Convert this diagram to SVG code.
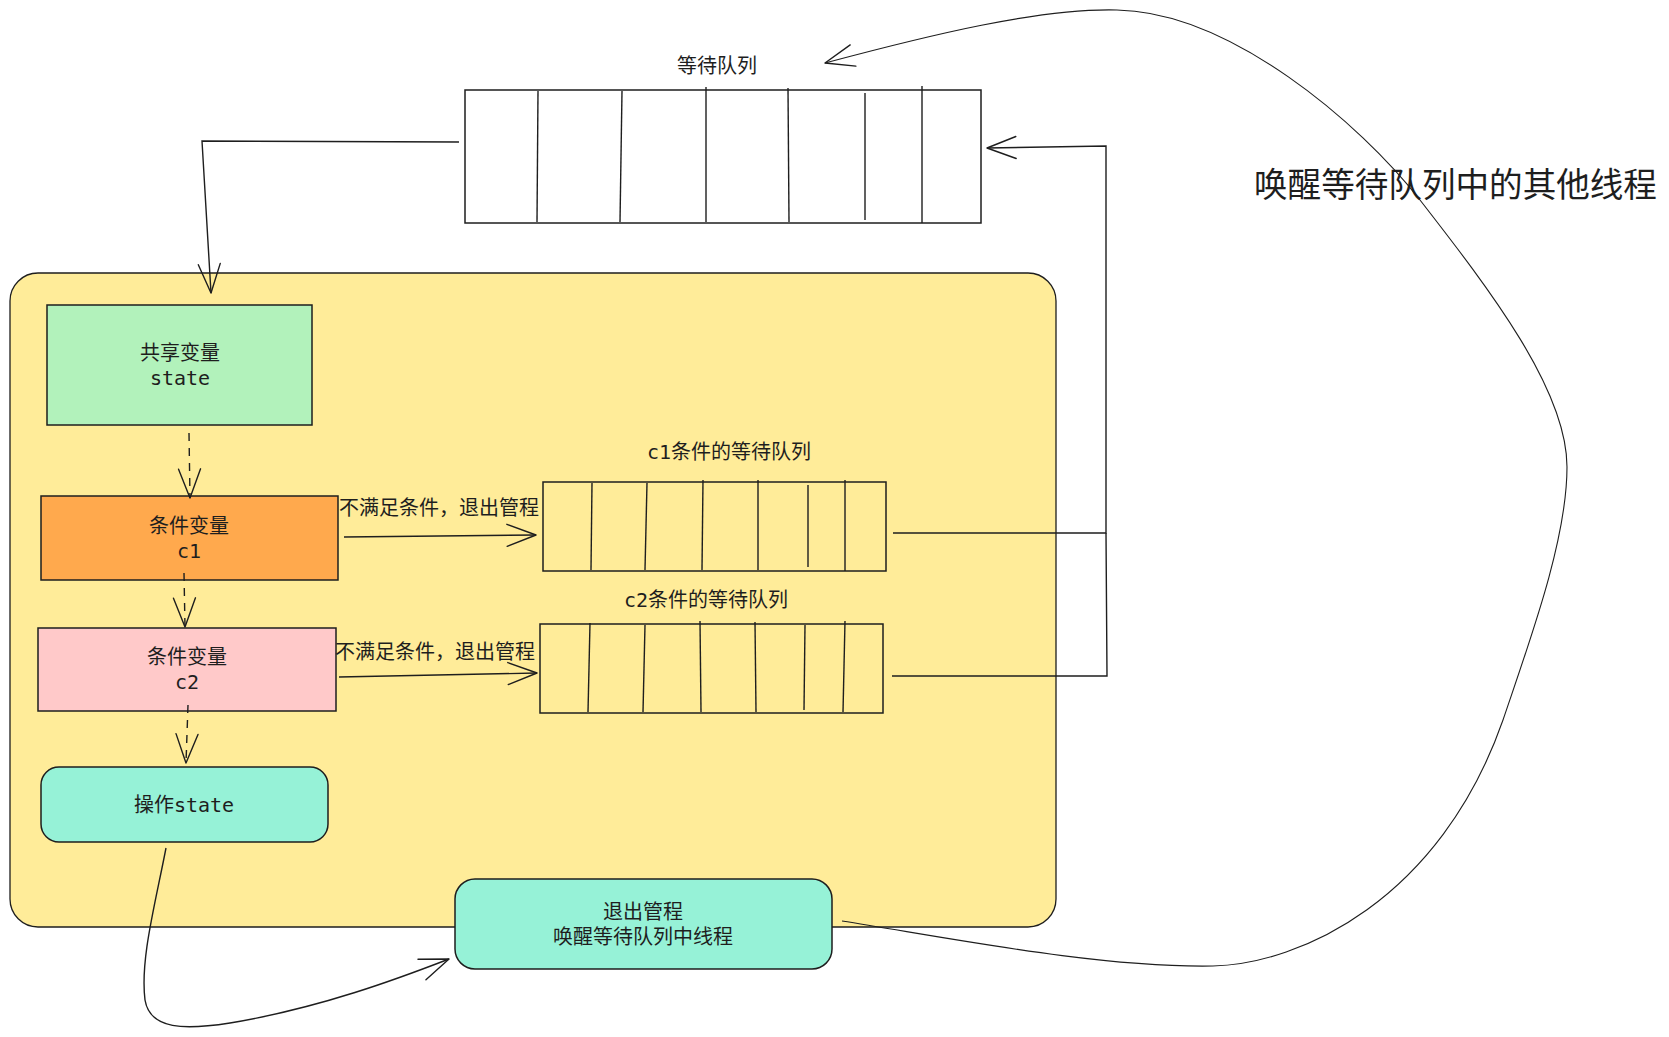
<svg xmlns="http://www.w3.org/2000/svg" width="1669" height="1037" viewBox="0 0 1669 1037">
<style>
  .bg { fill: #ffffff; }
  .frame { fill: #ffec99; stroke: #1e1e1e; stroke-width: 1.3; }
  .box { stroke: #1e1e1e; stroke-width: 1.5; }
  .queue { fill: none; stroke: #1e1e1e; stroke-width: 1.5; }
  .div { stroke: #1e1e1e; stroke-width: 1.4; }
  .edge { fill: none; stroke: #1e1e1e; stroke-width: 1.4; }
  .thin { stroke-width: 1.1; }
  .dash { stroke-dasharray: 8 7; }
  .head { fill: none; stroke: #1e1e1e; stroke-width: 1.4; stroke-dasharray: none; stroke-linecap: round; stroke-linejoin: round; }
  text { fill: #1e1e1e; }
  .cjk { font-family: "Noto Sans CJK SC", sans-serif; font-size: 20px; }
  .mix { font-family: "DejaVu Sans Mono", "Noto Sans CJK SC", monospace; font-size: 20px; }
  .big { font-family: "Noto Sans CJK SC", sans-serif; font-size: 33.6px; }
</style>
<defs>
  <marker id="open" markerUnits="userSpaceOnUse" viewBox="-32 -14 36 28" refX="0" refY="0" markerWidth="36" markerHeight="28" orient="auto" overflow="visible">
    <path class="head" d="M-29,-11 L0,0 L-29,11"/>
  </marker>
</defs>
<rect class="bg" x="0" y="0" width="1669" height="1037"/>

<g id="monitor">
  <rect class="frame" x="10" y="273" width="1046" height="654" rx="28" ry="28"/>
</g>

<g id="wait-queue">
  <text class="cjk" x="717" y="64" text-anchor="middle" dominant-baseline="central">等待队列</text>
  <rect class="queue" x="465" y="90" width="516" height="133"/>
  <line class="div" x1="538" y1="91" x2="537" y2="222"/>
  <line class="div" x1="622" y1="91" x2="620" y2="222"/>
  <line class="div" x1="706" y1="87" x2="706" y2="222"/>
  <line class="div" x1="788" y1="88" x2="789" y2="222"/>
  <line class="div" x1="865" y1="93" x2="865" y2="220"/>
  <line class="div" x1="922" y1="86" x2="922" y2="223"/>
</g>

<g id="shared-state">
  <rect class="box" x="47" y="305" width="265" height="120" fill="#b2f2bb"/>
  <text class="mix" x="180" y="353" text-anchor="middle" dominant-baseline="central">共享变量</text>
  <text class="mix" x="180" y="378" text-anchor="middle" dominant-baseline="central">state</text>
</g>

<g id="cond-c1">
  <rect class="box" x="41" y="496" width="297" height="84" fill="#ffa94d"/>
  <text class="mix" x="189" y="526" text-anchor="middle" dominant-baseline="central">条件变量</text>
  <text class="mix" x="189" y="551" text-anchor="middle" dominant-baseline="central">c1</text>
</g>

<g id="cond-c2">
  <rect class="box" x="38" y="628" width="298" height="83" fill="#ffc9c9"/>
  <text class="mix" x="187" y="657" text-anchor="middle" dominant-baseline="central">条件变量</text>
  <text class="mix" x="187" y="682" text-anchor="middle" dominant-baseline="central">c2</text>
</g>

<g id="op-state">
  <rect class="box" x="41" y="767" width="287" height="75" rx="18" ry="18" fill="#96f2d7"/>
  <text class="mix" x="184" y="805" text-anchor="middle" dominant-baseline="central">操作state</text>
</g>

<g id="exit-monitor">
  <rect class="box" x="455" y="879" width="377" height="90" rx="20" ry="20" fill="#96f2d7"/>
  <text class="mix" x="643" y="912" text-anchor="middle" dominant-baseline="central">退出管程</text>
  <text class="mix" x="643" y="937" text-anchor="middle" dominant-baseline="central">唤醒等待队列中线程</text>
</g>

<g id="c1-queue">
  <text class="mix" x="729" y="452" text-anchor="middle" dominant-baseline="central">c1条件的等待队列</text>
  <rect class="queue" x="543" y="482" width="343" height="89"/>
  <line class="div" x1="592" y1="483" x2="591" y2="570"/>
  <line class="div" x1="647" y1="483" x2="645" y2="570"/>
  <line class="div" x1="703" y1="480" x2="702" y2="570"/>
  <line class="div" x1="758" y1="480" x2="758" y2="570"/>
  <line class="div" x1="808" y1="485" x2="808" y2="567"/>
  <line class="div" x1="845" y1="480" x2="845" y2="571"/>
</g>

<g id="c2-queue">
  <text class="mix" x="706" y="600" text-anchor="middle" dominant-baseline="central">c2条件的等待队列</text>
  <rect class="queue" x="540" y="624" width="343" height="89"/>
  <line class="div" x1="590" y1="623" x2="588" y2="712"/>
  <line class="div" x1="645" y1="625" x2="643" y2="712"/>
  <line class="div" x1="700" y1="621" x2="701" y2="712"/>
  <line class="div" x1="755" y1="622" x2="756" y2="712"/>
  <line class="div" x1="805" y1="625" x2="804" y2="710"/>
  <line class="div" x1="845" y1="621" x2="843" y2="712"/>
</g>

<g id="note">
  <text class="big" x="1254" y="182" dominant-baseline="central">唤醒等待队列中的其他线程</text>
</g>

<g id="connectors">
  <path class="edge" d="M459,142 L202,141 L211,293" marker-end="url(#open)"/>
  <path class="edge dash" d="M189,433 L190,498" marker-end="url(#open)"/>
  <path class="edge dash" d="M184,573 L185,627" marker-end="url(#open)"/>
  <path class="edge dash" d="M188,705 L186,763" marker-end="url(#open)"/>
  <path class="edge" d="M344,537 L536,535" marker-end="url(#open)"/>
  <text class="cjk" x="439" y="506" text-anchor="middle" dominant-baseline="central">不满足条件，退出管程</text>
  <path class="edge" d="M339,677 L537,673" marker-end="url(#open)"/>
  <text class="cjk" x="435" y="650" text-anchor="middle" dominant-baseline="central">不满足条件，退出管程</text>
  <path class="edge" d="M893,533 L1106,533 L1106,146 L987,148" marker-end="url(#open)"/>
  <path class="edge" d="M892,676 L1107,676 L1106,533"/>
  <path class="edge" d="M166,848 C155,905 140,960 145,1000 C150,1030 185,1030 230,1023 C320,1008 400,978 449,959" marker-end="url(#open)"/>
  <path class="edge thin" d="M842,921 C950,938 1100,968 1213,966 C1300,964 1440,900 1503,720 C1530,640 1567,540 1567,467 C1567,390 1490,290 1420,200 C1360,123 1230,12 1117,10 C1040,8 930,35 825,63" marker-end="url(#open)"/>
</g>
</svg>
